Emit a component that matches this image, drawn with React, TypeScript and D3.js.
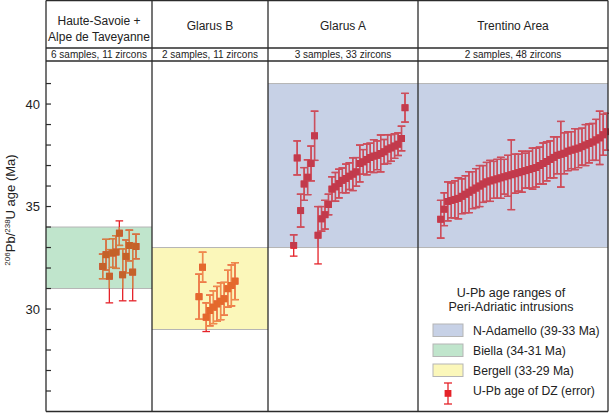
import React from "react";
import * as d3 from "d3";

// ---------- data ----------
const panelTitles = [["Haute-Savoie +", "Alpe de Taveyanne"], ["Glarus B"], ["Glarus A"], ["Trentino Area"]];
const panelSubtitles = ["6 samples, 11 zircons", "2 samples, 11 zircons", "3 samples, 33 zircons", "2 samples, 48 zircons"];

const hsAges = [32.08, 32.65, 31.6, 32.73, 32.78, 33.7, 31.67, 32.57, 33.1, 31.8, 33.05];
const hsErr = [0.6, 0.75, 1.3, 0.7, 0.8, 0.6, 1.27, 0.8, 0.75, 1.4, 0.6];

const gbAges = [30.6, 32.04, 29.6, 29.93, 30.09, 30.25, 30.38, 30.5, 30.99, 31.15, 31.36];
const gbErr = [1.1, 0.73, 0.7, 0.75, 0.8, 0.85, 0.9, 0.8, 0.9, 1.0, 0.9];

const gaAges = [33.1, 37.37, 34.8, 36.1, 36.43, 37.1, 38.45, 33.6, 34.4, 34.6, 35.1, 35.85, 35.96, 36.12,
  36.28, 36.37, 36.48, 36.58, 36.69, 37.1, 37.18, 37.3, 37.39, 37.46, 37.5, 37.59, 37.67, 37.8, 37.86, 37.95, 38.04, 38.32, 39.82];
const gaErr = [0.52, 0.83, 0.8, 0.8, 0.85, 0.85, 1.2, 1.4, 0.6, 0.7, 0.5, 0.6, 0.7, 0.7,
  0.6, 0.7, 0.65, 0.8, 0.7, 0.9, 0.6, 0.75, 0.7, 0.8, 0.7, 0.9, 0.6, 0.7, 0.65, 0.6, 0.55, 0.6, 0.7];

const trAges = [34.38, 34.87, 35.25, 35.3, 35.35, 35.4, 35.5, 35.6, 35.7, 35.8, 35.9, 36.0, 36.1, 36.2, 36.25, 36.3,
  36.35, 36.4, 36.45, 36.5, 36.55, 36.6, 36.65, 36.7, 36.75, 36.8, 36.85, 36.9, 37.0, 37.1, 37.2, 37.3,
  37.4, 37.5, 37.55, 37.6, 37.7, 37.75, 37.8, 37.85, 37.92, 38.0, 38.08, 38.15, 38.25, 38.35, 38.5, 38.65];
const trErr = [0.92, 0.8, 0.95, 0.85, 0.9, 1.0, 0.85, 0.9, 1.0, 0.9, 0.95, 1.0, 0.9, 0.95, 1.0, 0.9,
  0.95, 1.0, 0.85, 1.0, 1.7, 0.95, 0.9, 1.0, 0.85, 0.9, 1.0, 0.95, 0.9, 1.0, 0.95, 0.9,
  1.0, 0.9, 1.6, 1.0, 0.95, 0.9, 1.0, 0.95, 0.9, 1.0, 0.95, 0.9, 1.0, 1.3, 1.0, 0.9];

// band ranges per panel [lo, hi]
const bandRanges = [[31, 34], [29, 33], [33, 41], [33, 41]];

const legendTitle = ["U-Pb age ranges of", "Peri-Adriatic intrusions"];
const legendLabels = ["N-Adamello (39-33 Ma)", "Biella (34-31 Ma)", "Bergell (33-29 Ma)", "U-Pb age of DZ (error)"];

const yTickValues = d3.range(26, 42);
const yLabelValues = [30, 35, 40];

// ---------- layout ----------
const W = 609, H = 413;
const top = 0.5, headerTitleBottom = 48, headerBottom = 61, bottom = 411.5;
const panelX = [46, 152, 268, 418, 608];
const xRanges = [[102.7, 136], [199, 235], [293.7, 405], [440.7, 606.7]];

const bandFill = ["#c0e5cc", "#fbf7ba", "#c7d1e6", "#c7d1e6"];
const inMark = ["#c4622a", "#e4692c", "#c23a4c", "#c23a4c"];
const inBar = ["#d4803f", "#ef8d4a", "#c9505f", "#c9505f"];
const outColor = "#e52229";

const y = d3.scaleLinear().domain([25, 42.1]).range([bottom, headerBottom]);

const seriesAges = [hsAges, gbAges, gaAges, trAges];
const seriesErr = [hsErr, gbErr, gaErr, trErr];

function Marks({ ages, errs, xs, markColor, barColor }: any) {
  return (
    <g>
      {ages.map((a: number, i: number) => {
        const cx = xs(i);
        const y1 = y(a + errs[i]);
        const y2 = y(a - errs[i]);
        return (
          <g key={i}>
            <line x1={cx} x2={cx} y1={y1} y2={y2} stroke={barColor} strokeWidth={1.3} />
            <line x1={cx - 3.8} x2={cx + 3.8} y1={y1} y2={y1} stroke={barColor} strokeWidth={1.3} />
            <line x1={cx - 3.8} x2={cx + 3.8} y1={y2} y2={y2} stroke={barColor} strokeWidth={1.3} />
          </g>
        );
      })}
      {ages.map((a: number, i: number) => (
        <rect key={"s" + i} x={xs(i) - 3.4} y={y(a) - 3.4} width={6.8} height={6.8} fill={markColor} />
      ))}
    </g>
  );
}

export default function App() {
  const frame = "#2b2b2b";
  const font = "Liberation Sans, Arial, sans-serif";
  return (
    <svg width={W} height={H} style={{ position: "absolute", left: 0, top: 0, background: "#fff" }} fontFamily={font}>
      <defs>
        {bandRanges.map((b, p) => (
          <clipPath id={"band" + p} key={p}>
            <rect x={panelX[p]} y={y(b[1])} width={panelX[p + 1] - panelX[p]} height={y(b[0]) - y(b[1])} />
          </clipPath>
        ))}
      </defs>
      <rect x={0} y={0} width={W} height={H} fill="#fff" />
      {/* bands */}
      {bandRanges.map((b, p) => (
        <g key={"b" + p}>
          <rect x={panelX[p]} y={y(b[1])} width={panelX[p + 1] - panelX[p]} height={y(b[0]) - y(b[1])} fill={bandFill[p]} />
          <line x1={panelX[p]} x2={panelX[p + 1]} y1={y(b[1])} y2={y(b[1])} stroke="#b5b5b5" strokeWidth={1} />
          <line x1={panelX[p]} x2={panelX[p + 1]} y1={y(b[0])} y2={y(b[0])} stroke="#b5b5b5" strokeWidth={1} />
        </g>
      ))}
      {/* data */}
      {seriesAges.map((ages, p) => {
        const xs = d3.scaleLinear().domain([0, ages.length - 1]).range(xRanges[p]);
        return (
          <g key={"m" + p}>
            <Marks ages={ages} errs={seriesErr[p]} xs={xs} markColor={outColor} barColor={outColor} />
            <g clipPath={`url(#band${p})`}>
              <Marks ages={ages} errs={seriesErr[p]} xs={xs} markColor={inMark[p]} barColor={inBar[p]} />
            </g>
          </g>
        );
      })}
      {/* frame */}
      <line x1={panelX[0]} x2={panelX[4]} y1={top} y2={top} stroke={frame} strokeWidth={1.3} />
      <line x1={panelX[0]} x2={panelX[4]} y1={headerTitleBottom} y2={headerTitleBottom} stroke={frame} strokeWidth={1.3} />
      <line x1={panelX[0]} x2={panelX[4]} y1={headerBottom} y2={headerBottom} stroke={frame} strokeWidth={1.3} />
      <line x1={panelX[0]} x2={panelX[4]} y1={bottom} y2={bottom} stroke={frame} strokeWidth={1.3} />
      {panelX.map((x, i) => (
        <line key={"v" + i} x1={x} x2={x} y1={top} y2={bottom} stroke={frame} strokeWidth={1.3} />
      ))}
      {/* y axis ticks */}
      {yTickValues.map((v) => (
        <line key={"t" + v} x1={panelX[0]} x2={panelX[0] + 5} y1={y(v)} y2={y(v)} stroke={frame} strokeWidth={1.2} />
      ))}
      {yLabelValues.map((v) => (
        <text key={"l" + v} x={40} y={y(v)} dy="0.35em" textAnchor="end" fontSize={13} fill="#222">{v}</text>
      ))}
      <text transform={`translate(15,210) rotate(-90)`} textAnchor="middle" fontSize={13} fill="#222">
        <tspan fontSize={8} dy={-5}>206</tspan>
        <tspan dy={5}>Pb/</tspan>
        <tspan fontSize={8} dy={-5}>238</tspan>
        <tspan dy={5}>U age (Ma)</tspan>
      </text>
      {/* headers */}
      {panelTitles.map((lines, p) => {
        const cx = (panelX[p] + panelX[p + 1]) / 2;
        return (
          <g key={"h" + p}>
            {lines.map((t, k) => (
              <text key={k} x={cx} y={lines.length === 2 ? 25 + k * 16 : 29.5} textAnchor="middle" fontSize={12} fill="#222">{t}</text>
            ))}
            <text x={cx} y={58.3} textAnchor="middle" fontSize={10} fill="#222">{panelSubtitles[p]}</text>
          </g>
        );
      })}
      {/* legend */}
      {legendTitle.map((t, k) => (
        <text key={"lt" + k} x={511} y={297 + k * 14} textAnchor="middle" fontSize={12.5} fill="#222">{t}</text>
      ))}
      {[bandFill[2], bandFill[0], bandFill[1]].map((c, k) => (
        <rect key={"lb" + k} x={433} y={324 + k * 20} width={30} height={12.5} fill={c} stroke="#b5b5b5" strokeWidth={1} />
      ))}
      <g>
        <line x1={448} x2={448} y1={383} y2={404} stroke={outColor} strokeWidth={1.3} />
        <line x1={444} x2={452} y1={383} y2={383} stroke={outColor} strokeWidth={1.3} />
        <line x1={444} x2={452} y1={404} y2={404} stroke={outColor} strokeWidth={1.3} />
        <rect x={444.6} y={390} width={6.8} height={6.8} fill={outColor} />
      </g>
      {legendLabels.map((t, k) => (
        <text key={"ll" + k} x={473} y={330.5 + k * 20} dy="0.35em" fontSize={12.2} fill="#222">{t}</text>
      ))}
    </svg>
  );
}
